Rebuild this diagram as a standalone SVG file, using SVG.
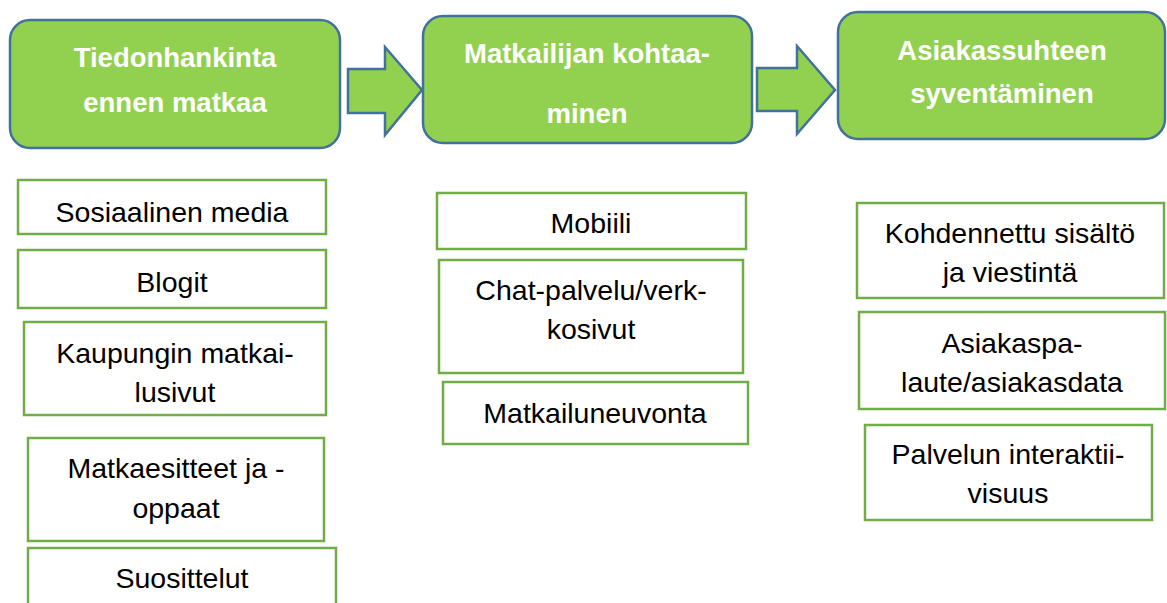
<svg xmlns="http://www.w3.org/2000/svg" width="1167" height="603" viewBox="0 0 1167 603">
<style>
.main{fill:#92D050;stroke:#41719C;stroke-width:2.5}
.arrow{fill:#92D050;stroke:#41719C;stroke-width:2.5;stroke-linejoin:miter}
.sub{fill:#FFFFFF;stroke:#70AD47;stroke-width:2.5}
.mt{font-family:"Liberation Sans",Arial,sans-serif;font-weight:bold;font-size:27.5px;fill:#FFFFFF;text-anchor:middle}
.st{font-family:"Liberation Sans",Arial,sans-serif;font-size:28.5px;fill:#000000;text-anchor:middle}
</style>
<rect width="1167" height="603" fill="#FFFFFF"/>
<g id="connectors">
<polygon class="arrow" points="348,69 385,69 385,47 422,90 385,135 385,113 348,113"/>
<polygon class="arrow" points="757,68 797,68 797,46 835,90 797,134 797,111 757,111"/>
</g>
<g id="stage1">
<rect class="main" x="10" y="20" width="330" height="128" rx="20"/>
<text class="mt" x="175" y="67">Tiedonhankinta</text>
<text class="mt" x="175" y="112">ennen matkaa</text>
</g>
<g id="stage2">
<rect class="main" x="423" y="16" width="329" height="127" rx="20"/>
<text class="mt" x="587" y="63">Matkailijan kohtaa-</text>
<text class="mt" x="587" y="123">minen</text>
</g>
<g id="stage3">
<rect class="main" x="838" y="12" width="327" height="127" rx="20"/>
<text class="mt" x="1002" y="60">Asiakassuhteen</text>
<text class="mt" x="1002" y="103">syventäminen</text>
</g>
<g id="sosiaalinen">
<rect class="sub" x="18" y="180" width="308" height="54"/>
<text class="st" x="172" y="222">Sosiaalinen media</text>
</g>
<g id="blogit">
<rect class="sub" x="18" y="250" width="308" height="58"/>
<text class="st" x="172" y="292">Blogit</text>
</g>
<g id="kaupungin">
<rect class="sub" x="24" y="322" width="302" height="93"/>
<text class="st" x="175" y="363">Kaupungin matkai-</text>
<text class="st" x="175" y="402">lusivut</text>
</g>
<g id="matkaesitteet">
<rect class="sub" x="28" y="438" width="296" height="103"/>
<text class="st" x="176" y="478">Matkaesitteet ja -</text>
<text class="st" x="176" y="518">oppaat</text>
</g>
<g id="suosittelut">
<rect class="sub" x="28" y="548" width="308" height="70"/>
<text class="st" x="182" y="588">Suosittelut</text>
</g>
<g id="mobiili">
<rect class="sub" x="437" y="193" width="309" height="56"/>
<text class="st" x="591" y="233">Mobiili</text>
</g>
<g id="chat">
<rect class="sub" x="439" y="260" width="304" height="113"/>
<text class="st" x="591" y="300">Chat-palvelu/verk-</text>
<text class="st" x="591" y="339">kosivut</text>
</g>
<g id="matkailuneuvonta">
<rect class="sub" x="443" y="382" width="305" height="62"/>
<text class="st" x="595" y="423">Matkailuneuvonta</text>
</g>
<g id="kohdennettu">
<rect class="sub" x="857" y="203" width="307" height="95"/>
<text class="st" x="1010" y="243">Kohdennettu sisältö</text>
<text class="st" x="1010" y="282">ja viestintä</text>
</g>
<g id="asiakaspalaute">
<rect class="sub" x="859" y="312" width="306" height="97"/>
<text class="st" x="1012" y="353">Asiakaspa-</text>
<text class="st" x="1012" y="392">laute/asiakasdata</text>
</g>
<g id="interaktiivisuus">
<rect class="sub" x="865" y="425" width="287" height="95"/>
<text class="st" x="1008" y="464">Palvelun interaktii-</text>
<text class="st" x="1008" y="503">visuus</text>
</g>
</svg>
